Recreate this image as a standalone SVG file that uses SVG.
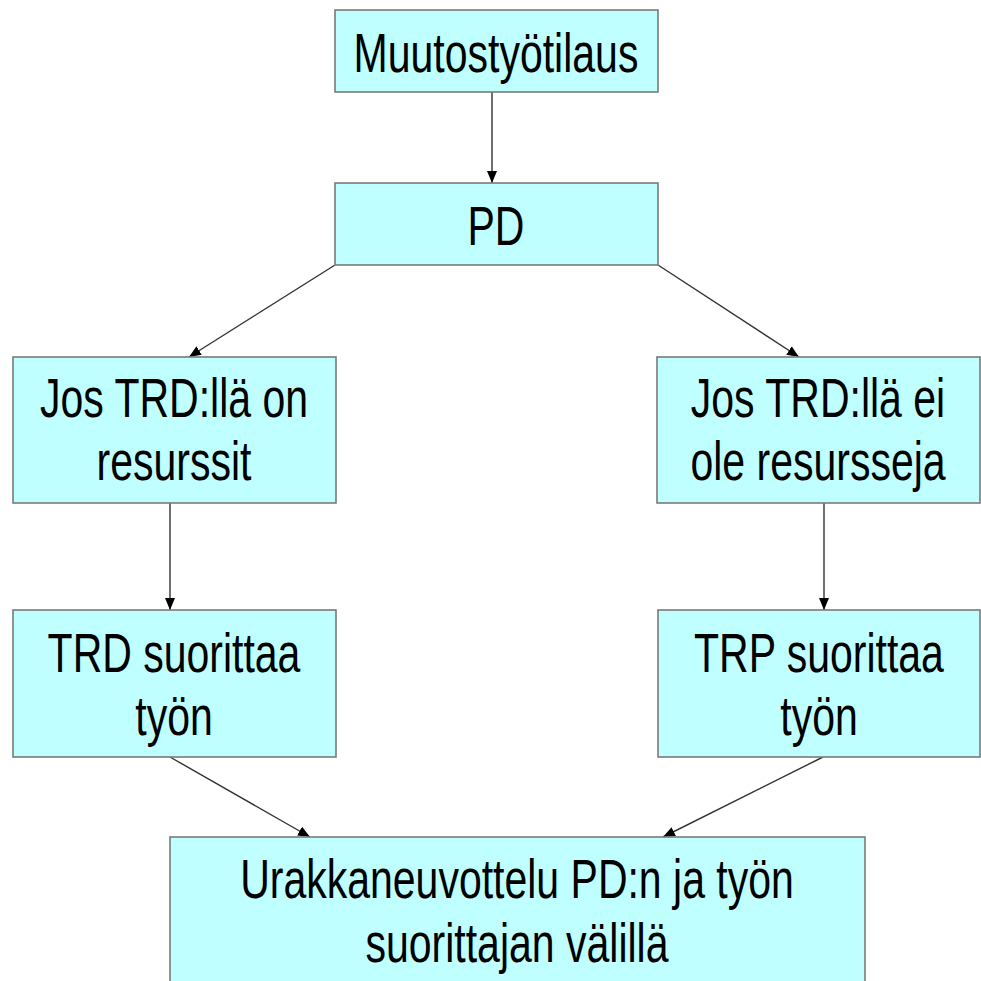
<svg xmlns="http://www.w3.org/2000/svg" width="981" height="981" viewBox="0 0 981 981">
<defs>
<marker id="ah" viewBox="0 0 12 10" refX="12" refY="5" markerWidth="12" markerHeight="10" markerUnits="userSpaceOnUse" orient="auto">
<path d="M0,0 L12,5 L0,10 z" fill="#000"/>
</marker>
</defs>
<style>
.box{fill:#BFFFFF;stroke:#7a7a7a;stroke-width:1.6}
.t{font-family:"Liberation Sans",Arial,sans-serif;font-size:41px;fill:#000;text-anchor:middle}
.c{stroke:#333;stroke-width:1.4;fill:none;marker-end:url(#ah)}
</style>
<rect width="981" height="981" fill="#fff"/>
<g id="connectors">
<line class="c" x1="492" y1="92" x2="492" y2="183"/>
<line class="c" x1="335" y1="265" x2="189" y2="357"/>
<line class="c" x1="658" y1="265" x2="799" y2="357"/>
<line class="c" x1="170" y1="503" x2="170" y2="610"/>
<line class="c" x1="824" y1="503" x2="824" y2="610"/>
<line class="c" x1="170" y1="757" x2="310" y2="837"/>
<line class="c" x1="823" y1="757" x2="663" y2="837"/>
</g>
<g id="n1">
<rect class="box" x="335" y="10" width="323" height="82"/>
<text class="t" transform="translate(496,72) scale(1,1.37)">Muutostyötilaus</text>
</g>
<g id="n2">
<rect class="box" x="335" y="183" width="323" height="82"/>
<text class="t" transform="translate(496,245) scale(1,1.37)">PD</text>
</g>
<g id="n3">
<rect class="box" x="13" y="357" width="323" height="146"/>
<text class="t" transform="translate(174,417) scale(1,1.37)">Jos TRD:llä on</text>
<text class="t" transform="translate(174,480) scale(1,1.37)">resurssit</text>
</g>
<g id="n4">
<rect class="box" x="657" y="357" width="323" height="146"/>
<text class="t" transform="translate(818,417) scale(1,1.37)">Jos TRD:llä ei</text>
<text class="t" transform="translate(818,480) scale(1,1.37)">ole resursseja</text>
</g>
<g id="n5">
<rect class="box" x="13" y="610" width="323" height="147"/>
<text class="t" transform="translate(174,672) scale(1,1.37)">TRD suorittaa</text>
<text class="t" transform="translate(174,735) scale(1,1.37)">työn</text>
</g>
<g id="n6">
<rect class="box" x="658" y="610" width="322" height="147"/>
<text class="t" transform="translate(819,672) scale(1,1.37)">TRP suorittaa</text>
<text class="t" transform="translate(819,735) scale(1,1.37)">työn</text>
</g>
<g id="n7">
<rect class="box" x="170" y="837" width="695" height="160"/>
<text class="t" transform="translate(517,898) scale(1,1.37)">Urakkaneuvottelu PD:n ja työn</text>
<text class="t" transform="translate(517,962) scale(1,1.37)">suorittajan välillä</text>
</g>
</svg>
